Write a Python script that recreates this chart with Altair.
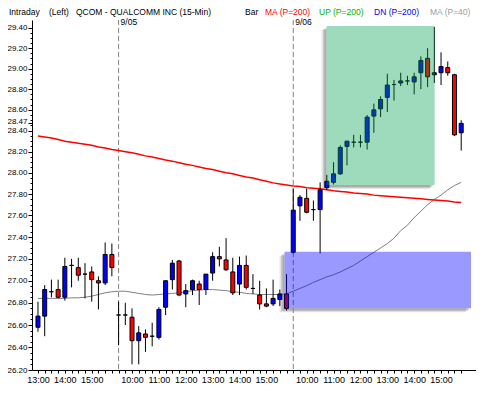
import altair as alt
import pandas as pd

# ---------------- data ----------------
opens = [26.58, 26.68, 26.90, 26.92, 26.85, 27.14, 27.12, 27.06, 27.08, 27.00, 26.98, 27.24,
         26.69, 26.69, 26.67, 26.46, 26.52, 26.50, 26.49, 26.76, 27.01, 27.18, 26.88, 26.92,
         26.97, 26.92, 27.07, 27.22, 27.19, 27.08, 26.97, 27.14, 26.93, 26.87, 26.79, 26.79,
         26.83, 26.88,
         27.26, 27.69, 27.76, 27.655, 27.655, 27.86, 27.91, 27.99, 28.25, 28.29, 28.29, 28.29,
         28.54, 28.61, 28.72, 28.845, 28.86, 28.88, 28.87, 28.96, 29.10, 28.94, 28.96, 29.01,
         28.94, 28.38]
highs = [26.81, 26.96, 27.01, 27.01, 27.21, 27.20, 27.21, 27.16, 27.13, 27.04, 27.35, 27.34,
         26.81, 26.80, 26.75, 26.59, 26.56, 26.62, 26.76, 27.00, 27.19, 27.19, 26.97, 27.01,
         27.00, 27.06, 27.26, 27.31, 27.39, 27.21, 27.22, 27.23, 27.06, 27.00, 26.93, 27.01,
         26.92, 27.06,
         27.85, 27.79, 27.85, 27.74, 27.91, 27.98, 28.10, 28.26, 28.30, 28.36, 28.36, 28.55,
         28.66, 28.73, 28.95, 28.89, 28.96, 28.93, 28.96, 29.12, 29.20, 29.41, 29.16, 29.07,
         28.95, 28.50]
lows = [26.54, 26.50, 26.85, 26.84, 26.82, 26.94, 27.00, 26.84, 26.81, 26.74, 26.96, 27.04,
        26.42, 26.60, 26.25, 26.25, 26.36, 26.41, 26.47, 26.69, 26.92, 26.865, 26.76, 26.87,
        26.78, 26.87, 27.00, 27.13, 27.09, 26.87, 26.87, 26.92, 26.88, 26.74, 26.76, 26.77,
        26.77, 26.73,
        27.25, 27.55, 27.62, 27.55, 27.25, 27.84, 27.89, 27.98, 28.07, 28.24, 28.24, 28.22,
        28.38, 28.53, 28.58, 28.69, 28.83, 28.84, 28.75, 28.80, 28.82, 28.86, 28.84, 28.93,
        28.35, 28.21]
closes = [26.68, 26.92, 26.90, 26.85, 27.13, 27.14, 27.05, 27.06, 27.01, 26.98, 27.24, 27.12,
          26.69, 26.69, 26.46, 26.53, 26.49, 26.50, 26.74, 27.00, 27.16, 26.87, 26.91, 27.00,
          26.92, 27.06, 27.22, 27.20, 27.10, 26.89, 27.14, 26.94, 26.93, 26.79, 26.77, 26.84,
          26.88, 26.75,
          27.65, 27.77, 27.63, 27.655, 27.84, 27.92, 27.99, 28.24, 28.30, 28.29, 28.29, 28.53,
          28.60, 28.70, 28.84, 28.845, 28.88, 28.88, 28.92, 29.08, 28.92, 28.96, 29.02, 28.96,
          28.36, 28.47]
ma200 = [28.35, 28.34, 28.33, 28.315, 28.30, 28.29, 28.28, 28.27, 28.26, 28.245, 28.235, 28.22,
         28.21, 28.20, 28.19, 28.175, 28.16, 28.15, 28.135, 28.12, 28.11, 28.095, 28.08, 28.07,
         28.055, 28.04, 28.03, 28.015, 28.00, 27.99, 27.975, 27.96, 27.95, 27.935, 27.92, 27.905,
         27.895, 27.885, 27.875, 27.87, 27.86, 27.855, 27.85, 27.84, 27.83, 27.825, 27.82, 27.81,
         27.805, 27.80, 27.79, 27.785, 27.78, 27.775, 27.77, 27.765, 27.76, 27.755, 27.75, 27.745,
         27.74, 27.735, 27.725, 27.72]
ma40 = [26.84, 26.84, 26.84, 26.84, 26.84, 26.845, 26.845, 26.85, 26.86, 26.875, 26.89, 26.90,
        26.905, 26.905, 26.895, 26.885, 26.875, 26.87, 26.875, 26.88, 26.885, 26.89, 26.90, 26.91,
        26.915, 26.92, 26.92, 26.915, 26.91, 26.90, 26.895, 26.885, 26.88, 26.875, 26.875, 26.875,
        26.875, 26.88, 26.905, 26.93, 26.955, 26.985, 27.01, 27.035, 27.055, 27.08, 27.11, 27.14,
        27.18, 27.22, 27.26, 27.30, 27.34, 27.39, 27.46, 27.51, 27.58, 27.64, 27.70, 27.75,
        27.79, 27.84, 27.88, 27.91]

session_1 = ["13:00", "13:15", "13:30", "13:45", "14:00", "14:15", "14:30", "14:45",
             "15:00", "15:15", "15:30", "15:45"]
full_day = ["09:30", "09:45", "10:00", "10:15", "10:30", "10:45", "11:00", "11:15",
            "11:30", "11:45", "12:00", "12:15", "12:30", "12:45", "13:00", "13:15",
            "13:30", "13:45", "14:00", "14:15", "14:30", "14:45", "15:00", "15:15",
            "15:30", "15:45"]
bar_times = session_1 + full_day + full_day

day_start_idx = [12, 38]
day_labels = ["9/05", "9/06"]

X_MIN, X_MAX = -0.1455, 64.46

# highlighted zones: start bar, end bar, low price, high price
zone_names = ["UP", "DN"]
zone_start = [42.95, 36.7]
zone_end = [59.05, X_MAX]
zone_low = [27.885, 26.75]
zone_high = [29.42, 27.266]

last_price = 28.47

# ---------------- frames ----------------
n = len(opens)
idx = list(range(n))
direction = ["up" if c > o else ("down" if c < o else "flat") for o, c in zip(opens, closes)]
candles = pd.DataFrame({"idx": idx, "open": opens, "high": highs, "low": lows,
                        "close": closes, "dir": direction,
                        "ma200": ma200, "ma40": ma40})
days = pd.DataFrame({"idx": day_start_idx, "label": day_labels})
zones = pd.DataFrame({"zone": zone_names, "x": zone_start, "x2": zone_end,
                      "lo": zone_low, "hi": zone_high})

hour_labels = [t if t.endswith(":00") else "" for t in bar_times]
label_expr = "[" + ",".join("'" + s + "'" for s in hour_labels) + "][datum.value] || ''"

y_ticks = sorted(set([round(26.2 + 0.05 * k, 2) for k in range(65)] + [last_price]))
is_last = "abs(datum.value - 28.47) < 0.001"
major_test = "round(datum.value*100) % 20 == 0 || " + is_last

FONT = "Liberation Sans"
Y_MIN, Y_MAX = 26.2, 29.479
PLOT_W, PLOT_H = 444, 350
LEFT, TOP = 32, 20  # page position of the plot area

xscale = alt.Scale(domain=[X_MIN, X_MAX], nice=False, zero=False)
yscale = alt.Scale(type="log", domain=[Y_MIN, Y_MAX], nice=False, zero=False)
xaxis = alt.Axis(values=idx, labelExpr=label_expr, tickSize=3, labelPadding=2,
                 title=None, grid=False, labelFont="Liberation Sans Narrow, Liberation Sans",
                 labelFontSize=9, labelColor="black", domainColor="black",
                 tickColor="black", labelOverlap=False, labelFlush=False, labelAngle=0)
yaxis = alt.Axis(values=y_ticks,
                 labelExpr=f"({major_test}) ? format(datum.value, '.2f') : ''",
                 tickSize={"condition": {"test": major_test, "value": 4}, "value": 2},
                 labelOffset={"condition": {"test": is_last, "value": -2}, "value": 0},
                 labelPadding=1, title=None, grid=False, labelFont=FONT, labelFontSize=8,
                 labelColor="black", domainColor="black", tickColor="black",
                 labelOverlap=False, labelFlush=False)


def X(field):
    return alt.X(field, type="quantitative", scale=xscale, axis=xaxis)


def Y(field):
    return alt.Y(field, type="quantitative", scale=yscale, axis=yaxis)


zbase = alt.Chart(zones)
layers = []
# soft drop shadows of the zones
for off_x, off_y, op in [(-5, 4, 0.10), (-3.5, 3, 0.12), (-2, 2, 0.15)]:
    layers.append(zbase.mark_rect(color="black", opacity=op, xOffset=off_x, x2Offset=off_x,
                                  yOffset=off_y, y2Offset=off_y, clip=True)
                  .encode(x=X("x"), x2="x2", y=Y("lo"), y2="hi"))
layers.append(zbase.mark_rect(color="white", clip=True)
              .encode(x=X("x"), x2="x2", y=Y("lo"), y2="hi"))

# day separators and date labels
layers.append(alt.Chart(days).mark_rule(color="#808080", strokeDash=[5, 3], strokeWidth=1)
              .encode(x=X("idx")))
layers.append(alt.Chart(days).mark_text(align="left", baseline="middle", dx=2, font=FONT,
                                        fontSize=8.5, color="black")
              .encode(x=X("idx"), y=alt.value(1.5), text="label:N"))

cbase = alt.Chart(candles)
layers.append(cbase.mark_line(color="#808080", strokeWidth=1, clip=True)
              .encode(x=X("idx"), y=Y("ma40")))
layers.append(cbase.mark_line(color="#ff0000", strokeWidth=1.5, clip=True)
              .encode(x=X("idx"), y=Y("ma200")))
layers.append(cbase.mark_rule(color="black", strokeWidth=1, clip=True)
              .encode(x=X("idx"), y=Y("low"), y2="high"))
layers.append(cbase.mark_bar(size=4, stroke="black", strokeWidth=1, clip=True)
              .encode(x=X("idx"), y=Y("open"), y2="close",
                      fill=alt.Fill("dir:N", scale=alt.Scale(domain=["up", "down", "flat"],
                                                             range=["#0000ff", "#ff0000", "#000000"]),
                                    legend=None)))

# translucent zone overlays on top of the bars
layers.append(alt.Chart(zones).transform_filter("datum.zone == 'UP'")
              .mark_rect(color="#009e4f", opacity=0.38, clip=True)
              .encode(x=X("x"), x2="x2", y=Y("lo"), y2="hi"))
layers.append(alt.Chart(zones).transform_filter("datum.zone == 'DN'")
              .mark_rect(color="#0000ff", opacity=0.4, clip=True)
              .encode(x=X("x"), x2="x2", y=Y("lo"), y2="hi"))

# header line
header = [("Intraday", 9, "black"), ("(Left)", 49, "black"),
          ("QCOM - QUALCOMM INC  (15-Min)", 76, "black"), ("Bar", 245, "black"),
          ("MA (P=200)", 265, "#ff0000"), ("UP (P=200)", 319, "#00b400"),
          ("DN (P=200)", 374, "#0000ff"), ("MA (P=40)", 430, "#a0a0a0")]
for text, px, col in header:
    layers.append(alt.Chart(alt.Data(values=[{}]))
                  .mark_text(text=text, align="left", baseline="middle", font=FONT,
                             fontSize=8.5, color=col)
                  .encode(x=alt.value(px - LEFT), y=alt.value(11.5 - TOP)))

chart = (alt.layer(*layers)
         .properties(width=PLOT_W, height=PLOT_H,
                     padding={"left": LEFT - 8, "top": TOP - 8, "right": 0, "bottom": 14},
                     autosize=alt.AutoSizeParams(type="none"), background="white")
         .configure_view(stroke=None))

chart.save("out.html", embed_options={"renderer": "svg", "actions": False})
